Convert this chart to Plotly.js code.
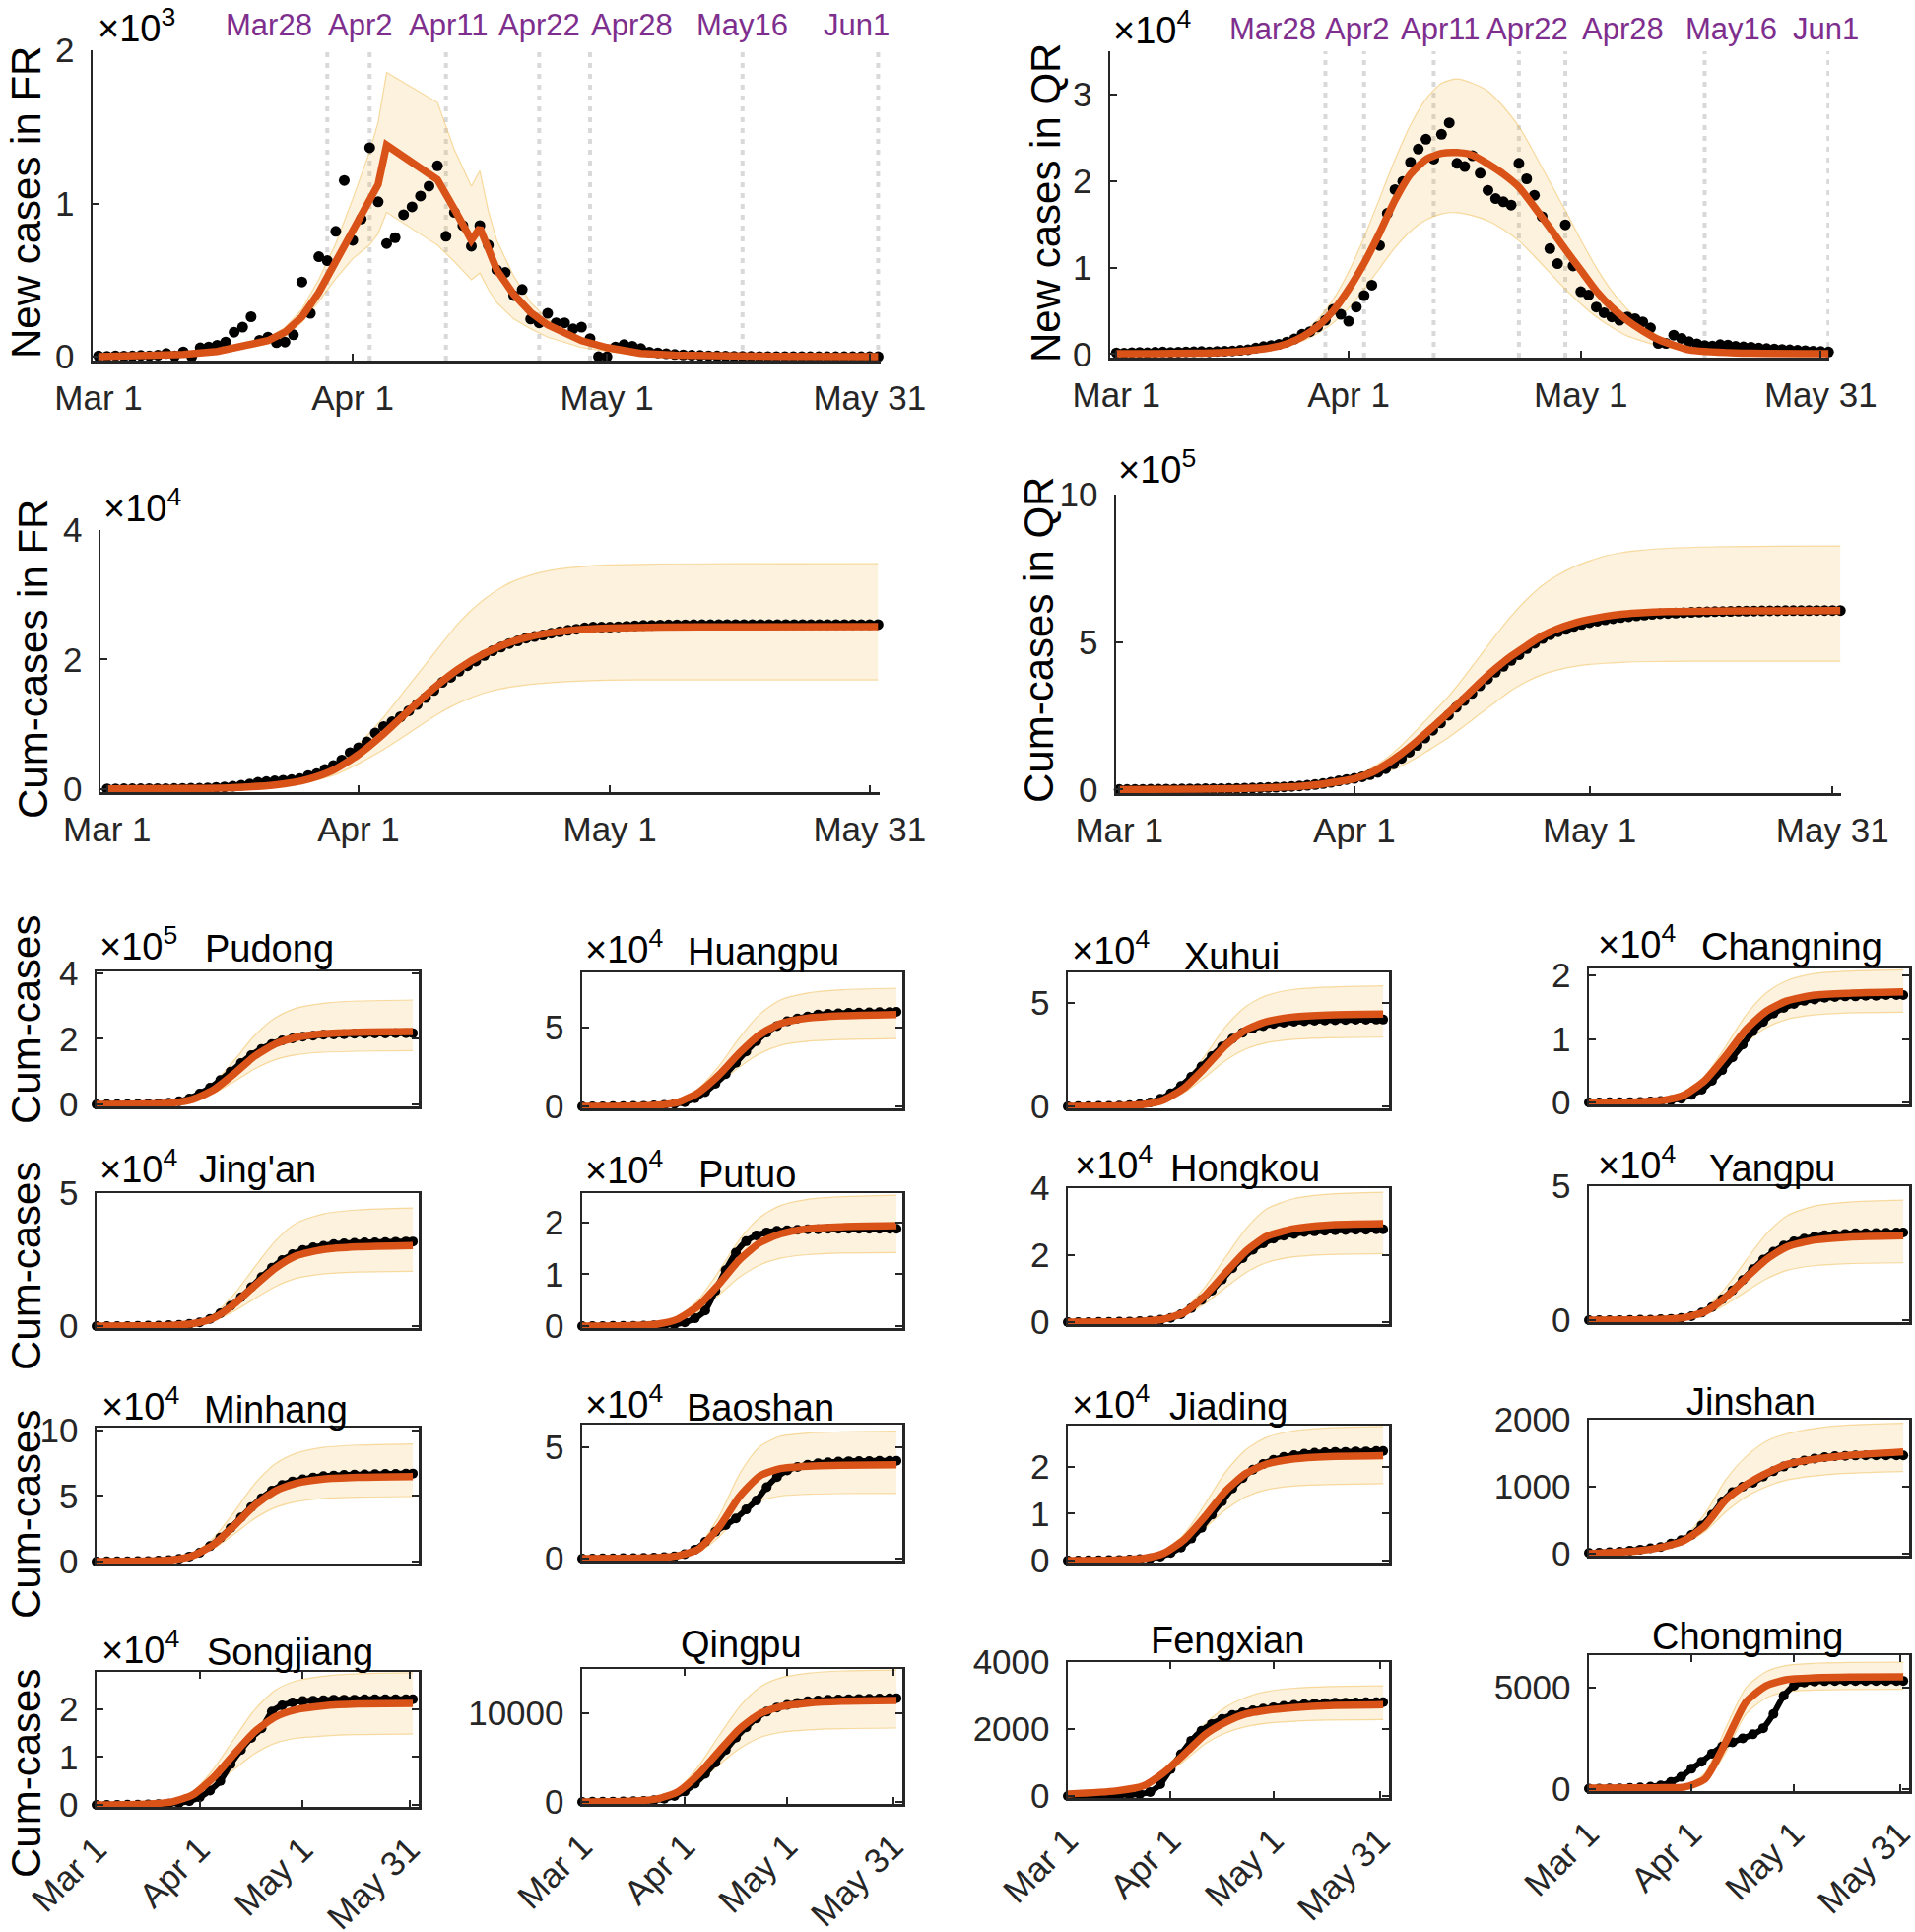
<!DOCTYPE html>
<html>
<head>
<meta charset="utf-8">
<script src="https://cdn.plot.ly/plotly-3.0.1.min.js"></script>
<style>
  html, body { margin: 0; padding: 0; background: #fff; }
  #chart { width: 1944px; height: 1961px; }
</style>
</head>
<body>
<div id="chart"></div>
<script>
// ---------------- data ----------------
// day index: 0 = Mar 1 ... 92 = Jun 1
const days = Array.from({length: 93}, (v, k) => k);
const dateTickDays = [0, 30, 60, 91];
const dateTickText = ['Mar 1', 'Apr 1', 'May 1', 'May 31'];

// policy dates marked with dashed lines
const eventDays = [27, 32, 41, 52, 58, 76, 92];
const eventLabels = ['Mar28', 'Apr2', 'Apr11', 'Apr22', 'Apr28', 'May16', 'Jun1'];
const eventLabelPosFR = [20.1, 30.9, 41.3, 52, 62.9, 76, 89.5];
const eventLabelPosQR = [20.2, 31.1, 41.8, 53.1, 65.5, 79.5, 91.7];

// new cases in FR (daily)
const frNewData = [5,3,6,4,5,8,6,10,21,5,32,0,58,64,75,96,160,193,261,107,128,92,96,143,
  488,283,653,627,818,1150,760,899,1364,1011,739,777,927,978,1049,1113,1246,
  786,942,856,721,856,728,567,550,400,439,246,221,283,221,221,182,193,118,0,0,
  64,79,69,53,30,25,20,15,12,10,8,6,5,4,3,2,2,1,1,1,1,1,1,0,0,0,0,0,0,0,0,0];
const fitDaysFR = [0,5,10,14,18,20,22,24,26,28,30,32,33,34,40,42,44,45,46,47,49,51,53,55,57,60,62,64,68,72,80,92];
const frNewFit = [0,5,15,35,75,105,160,260,420,625,830,1017,1124,1381,1156,963,760,841,696,567,407,289,208,150,105,60,38,22,10,5,2,0];
const frNewUp = [0,5,16,40,85,125,190,310,505,740,1030,1340,1531,1856,1659,1350,1113,1214,953,760,525,353,246,171,125,75,49,30,14,7,3,0];
const frNewLo = [0,4,13,30,60,85,130,225,360,510,640,730,803,942,728,620,503,546,439,353,246,182,128,92,60,35,21,14,6,3,1,0];

// new cases in QR (daily)
const qrNewData = [150,120,180,200,160,220,250,200,230,260,280,300,260,320,350,380,450,
  520,700,870,1000,1150,1400,1750,2300,2600,3150,3920,
  5170,4600,3800,5440,6770,7980,
  12550,16270,19010,19960,22170,23690,24830,22550,25400,26730,
  22050,21670,22930,20910,18930,17980,17600,17220,
  22050,20260,18360,15890,12200,10460,14940,10190,
  7220,6840,5440,4790,4300,3920,4300,4100,3730,3040,
  1250,1250,2200,1825,1440,1200,1000,950,1100,1050,900,850,800,700,650,600,550,500,450,400,350,300,250];
const fitDaysQR = [0,5,10,14,17,20,22,24,26,28,30,32,34,36,38,40,42,44,46,48,50,52,54,56,58,60,62,64,66,68,70,74,80,92];
const qrNewFit = [50,60,100,200,400,750,1200,2000,3200,5000,7500,10500,14000,17800,20800,22500,23200,23300,23000,22000,
  20800,19300,17000,14600,12100,9700,7300,5400,3900,2700,1700,500,150,60];
const qrNewUp = [50,60,100,210,450,900,1500,2500,4000,6300,9500,13500,18000,22500,26500,29500,31300,31800,31300,30400,
  28600,26300,23200,19900,16600,13200,10000,7300,5200,3500,2100,700,200,70];
const qrNewLo = [50,60,100,190,350,600,950,1500,2400,3600,5300,7500,9900,12300,14200,15500,16200,16350,16000,15400,
  14400,13100,11300,9400,7500,5800,4300,3100,2100,1500,1000,380,130,50];

// cumulative cases in FR
const frCumData = [5,8,14,18,23,31,37,47,68,73,105,105,163,227,302,398,558,751,1012,1119,
  1247,1339,1435,1578,2066,2349,3002,3629,4447,5597,6357,7256,8620,9631,10370,11147,12074,13052,14101,15214,
  16460,17246,18188,19044,19765,20621,21349,21916,22466,22866,23305,23551,23772,24055,24276,24497,24679,24872,24990,24990,
  24990,25054,25133,25202,25255,25285,25310,25330,25345,25357,25367,25375,25381,25386,25390,25393,25395,25397,25398,25399,
  25400,25400,25400,25400,25400,25400,25400,25400,25400,25400,25400,25400,25400];
const cumDaysFR = [0,10,15,20,24,27,30,33,36,39,42,45,48,51,54,57,60,66,75,92];
const frCumFit = [0,60,200,600,1500,2900,5300,8500,12100,15600,18600,20900,22600,23700,24300,24650,24850,25000,25050,25080];
const frCumUp = [0,70,250,750,1900,3700,6900,11100,16000,20900,25700,29300,31800,33200,34000,34400,34600,34750,34800,34800];
const frCumLo = [0,50,150,450,1100,2100,3900,6100,8600,11200,13300,14800,15700,16200,16500,16700,16800,16850,16850,16850];

// cumulative cases in QR
const qrCumData = [200,400,600,800,1000,1200,1500,1700,2000,2200,
  2500,2800,3100,3400,3800,4200,4700,5300,6000,6900,
  8000,9200,10600,12400,14600,17200,20500,24500,29500,34000,
  38000,43500,50500,58500,71000,87000,106000,127000,150000,175000,
  201000,226000,252000,279000,302000,326000,352000,375000,398000,418000,
  438000,457000,478000,496000,512000,525000,535000,543000,553000,560000,
  566000,571000,575500,579500,583000,586000,589000,591500,594000,596000,
  597000,598000,599500,600500,601500,602300,603000,603600,604200,604700,
  605100,605400,605700,606000,606200,606400,606500,606600,606700,606800,
  606900,607000,607000];
const cumDaysQR = [0,10,15,20,24,26,28,30,32,34,36,38,40,42,44,46,48,50,52,54,56,58,60,62,64,66,70,76,84,92];
const qrCumFit = [0,1500,3000,7000,13000,19000,27000,37000,55000,85000,122000,165000,212000,260000,310000,362000,410000,452000,488000,522000,
  546000,564000,577000,587000,594000,598000,603000,605000,606000,606500];
const qrCumUp = [0,1700,3500,8500,16000,23000,33000,47000,70000,104000,150000,204000,260000,316000,382000,452000,522000,588000,645000,693000,
  728000,755000,775000,792000,803000,810000,818000,823000,825000,826000];
const qrCumLo = [0,1300,2500,5500,10000,14000,20000,28000,40000,58000,80000,109000,142000,176000,215000,256000,296000,335000,366000,390000,
  406000,417000,424000,428000,431000,433000,434500,435000,435000,435000];

// districts: observed every 3 days, model/band on a coarser day grid (axis units shown in each panel)
const obsDays = [0,3,6,9,12,15,18,21,24,27,30,33,36,39,42,45,48,51,54,57,60,63,66,69,72,75,78,81,84,87,90,92];
const modelDays = [0,14,22,28,34,40,46,52,58,66,76,92];

const pudongData = [0,.004,.007,.009,.011,.017,.03,.054,.098,.18,.33,.51,.74,1.0,1.26,1.5,1.69,1.84,1.95,2.01,2.06,2.09,2.12,2.13,2.14,2.15,2.15,2.16,2.16,2.17,2.17,2.17];
const pudongFit = [0,.011,.044,.155,.44,.93,1.47,1.84,2.04,2.15,2.20,2.22];
const pudongUp = [0,.016,.064,.22,.64,1.34,2.10,2.64,2.93,3.08,3.15,3.18];
const pudongLo = [0,.008,.033,.115,.33,.69,1.08,1.36,1.51,1.59,1.62,1.64];

const huangpuData = [0,0,0,.006,.012,.024,.036,.06,.09,.15,.27,.51,.9,1.44,2.04,2.76,3.48,4.14,4.68,5.1,5.4,5.58,5.7,5.82,5.87,5.91,5.94,5.95,5.97,5.98,5.99,6.0];
const huangpuFit = [0,.017,.076,.26,.87,1.98,3.38,4.55,5.25,5.6,5.75,5.83];
const huangpuUp = [0,.023,.1,.34,1.13,2.55,4.35,5.85,6.75,7.2,7.4,7.5];
const huangpuLo = [0,.013,.056,.19,.65,1.46,2.49,3.35,3.87,4.13,4.24,4.3];

const xuhuiData = [0,.008,.013,.017,.021,.033,.059,.1,.19,.36,.63,.98,1.42,1.92,2.42,2.88,3.26,3.55,3.76,3.87,3.97,4.03,4.08,4.1,4.13,4.14,4.15,4.16,4.17,4.17,4.18,4.18];
const xuhuiFit = [0,.022,.089,.31,.89,1.86,2.93,3.69,4.08,4.31,4.4,4.44];
const xuhuiUp = [0,.029,.116,.41,1.16,2.44,3.83,4.81,5.34,5.63,5.74,5.8];
const xuhuiLo = [0,.017,.067,.23,.67,1.4,2.2,2.76,3.06,3.23,3.3,3.33];

const changningData = [0,0,.002,.003,.005,.008,.014,.022,.034,.059,.118,.2,.34,.51,.71,.91,1.12,1.27,1.4,1.49,1.55,1.6,1.62,1.65,1.66,1.67,1.67,1.68,1.68,1.69,1.69,1.69];
const changningFit = [0,.009,.035,.12,.35,.73,1.15,1.44,1.6,1.69,1.72,1.74];
const changningUp = [0,.01,.042,.146,.42,.88,1.38,1.73,1.92,2.03,2.07,2.09];
const changningLo = [0,.007,.028,.1,.28,.6,.94,1.18,1.31,1.38,1.41,1.42];

const jinganData = [0,0,0,.003,.006,.013,.019,.032,.048,.08,.14,.27,.48,.76,1.08,1.46,1.84,2.19,2.48,2.7,2.86,2.96,3.02,3.08,3.11,3.13,3.15,3.15,3.16,3.17,3.18,3.18];
const jinganFit = [0,.006,.03,.09,.3,.82,1.52,2.18,2.64,2.88,2.98,3.03];
const jinganUp = [0,.009,.044,.13,.44,1.2,2.22,3.2,3.86,4.22,4.37,4.44];
const jinganLo = [0,.004,.021,.062,.21,.56,1.03,1.48,1.79,1.96,2.03,2.06];

const putuoData = [0,0,0,.002,.003,.005,.008,.012,.02,.035,.07,.15,.3,.68,1.08,1.42,1.64,1.75,1.81,1.84,1.85,1.86,1.87,1.87,1.88,1.88,1.88,1.88,1.88,1.88,1.88,1.88];
const putuoFit = [0,.01,.039,.136,.39,.81,1.28,1.61,1.78,1.88,1.92,1.94];
const putuoUp = [0,.013,.05,.18,.51,1.06,1.67,2.1,2.33,2.45,2.5,2.53];
const putuoLo = [0,.007,.028,.1,.28,.6,.94,1.18,1.31,1.38,1.41,1.42];

const hongkouData = [0,0,0,.003,.006,.011,.017,.028,.042,.069,.125,.235,.42,.66,.94,1.27,1.61,1.91,2.16,2.35,2.49,2.58,2.63,2.69,2.71,2.73,2.74,2.75,2.76,2.76,2.77,2.77];
const hongkouFit = [0,.006,.029,.088,.29,.79,1.47,2.12,2.56,2.79,2.9,2.94];
const hongkouUp = [0,.008,.039,.116,.39,1.05,1.94,2.79,3.38,3.69,3.82,3.88];
const hongkouLo = [0,.004,.021,.062,.21,.55,1.03,1.48,1.78,1.95,2.02,2.05];

const yangpuData = [0,0,0,.003,.007,.013,.02,.033,.049,.082,.147,.28,.49,.78,1.11,1.5,1.9,2.26,2.55,2.78,2.94,3.04,3.11,3.17,3.2,3.22,3.24,3.24,3.25,3.26,3.27,3.27];
const yangpuFit = [0,.006,.032,.095,.32,.85,1.58,2.27,2.74,2.99,3.1,3.15];
const yangpuUp = [0,.009,.045,.13,.45,1.21,2.24,3.23,3.9,4.26,4.41,4.48];
const yangpuLo = [0,.004,.021,.064,.21,.58,1.07,1.54,1.86,2.03,2.11,2.14];

const minhangData = [0,.007,.013,.02,.027,.04,.067,.114,.2,.38,.67,1.17,1.81,2.55,3.35,4.15,4.82,5.39,5.83,6.1,6.26,6.4,6.5,6.55,6.6,6.62,6.63,6.65,6.67,6.68,6.69,6.7];
const minhangFit = [0,.032,.13,.45,1.29,2.72,4.27,5.37,5.95,6.28,6.41,6.47];
const minhangUp = [0,.045,.18,.63,1.79,3.76,5.91,7.44,8.24,8.69,8.87,8.96];
const minhangLo = [0,.025,.1,.35,.99,2.08,3.27,4.11,4.55,4.8,4.9,4.95];

const baoshanData = [0,0,.005,.01,.015,.02,.03,.04,.06,.1,.2,.4,.75,1.2,1.5,1.8,2.2,2.6,3.2,3.65,3.95,4.1,4.2,4.27,4.31,4.34,4.36,4.37,4.37,4.38,4.38,4.38];
const baoshanFit = [0,.013,.042,.126,.42,1.39,2.77,3.7,4.03,4.14,4.18,4.2];
const baoshanUp = [0,.017,.057,.17,.57,1.88,3.77,5.02,5.48,5.62,5.68,5.71];
const baoshanLo = [0,.009,.029,.088,.29,.96,1.93,2.57,2.8,2.88,2.91,2.92];

const jiadingData = [0,0,.002,.005,.007,.012,.019,.03,.047,.082,.164,.28,.47,.7,.98,1.26,1.54,1.76,1.94,2.06,2.15,2.21,2.25,2.28,2.3,2.31,2.32,2.32,2.33,2.33,2.34,2.34];
const jiadingFit = [0,.011,.045,.157,.45,.94,1.48,1.86,2.06,2.17,2.22,2.24];
const jiadingUp = [0,.014,.057,.2,.57,1.2,1.89,2.37,2.63,2.77,2.83,2.86];
const jiadingLo = [0,.008,.033,.115,.33,.69,1.08,1.36,1.51,1.59,1.62,1.64];

const jinshanData = [10,15,20,30,45,60,80,100,150,200,280,420,580,780,920,1000,1060,1150,1230,1300,1350,1390,1420,1440,1455,1460,1465,1467,1467,1467,1467,1467];
const jinshanFit = [0,40,105,200,420,800,1030,1200,1335,1410,1467,1520];
const jinshanUp = [0,45,120,260,600,1100,1450,1680,1790,1870,1920,1947];
const jinshanLo = [0,35,90,160,330,620,850,1000,1100,1160,1200,1227];

const songjiangData = [0,0,.002,.004,.006,.01,.015,.025,.04,.08,.16,.3,.5,.85,1.15,1.4,1.6,1.95,2.08,2.14,2.17,2.18,2.19,2.2,2.2,2.2,2.21,2.21,2.21,2.21,2.21,2.21];
const songjiangFit = [0,.015,.064,.21,.57,1.06,1.53,1.84,1.99,2.07,2.11,2.12];
const songjiangUp = [0,.019,.083,.28,.75,1.38,1.99,2.4,2.59,2.69,2.74,2.76];
const songjiangLo = [0,.01,.044,.148,.4,.74,1.07,1.29,1.39,1.44,1.47,1.48];

const qingpuData = [0,12,23,35,47,70,117,200,350,670,1170,2050,3160,4450,5850,7250,8420,9420,10180,10650,10940,11170,11350,11440,11520,11560,11580,11620,11640,11660,11690,11700];
const qingpuFit = [0,80,340,1140,3090,5700,8230,9940,10740,11140,11350,11430];
const qingpuUp = [0,100,450,1490,4020,7440,10710,12950,13990,14510,14780,14880];
const qingpuLo = [0,60,250,830,2250,4170,6000,7250,7830,8120,8270,8330];

const fengxianData = [0,5,10,15,20,30,40,60,120,350,800,1250,1650,1950,2150,2300,2420,2500,2560,2610,2650,2690,2720,2740,2760,2775,2785,2790,2795,2800,2800,2800];
const fengxianFit = [60,150,300,700,1250,1830,2200,2450,2560,2640,2700,2727];
const fengxianUp = [70,170,350,800,1450,2150,2650,2950,3120,3220,3270,3290];
const fengxianLo = [50,130,260,600,1050,1550,1880,2070,2170,2230,2265,2280];

const chongmingData = [20,25,30,40,60,80,120,180,350,600,1000,1350,1750,2100,2300,2500,2700,3000,3700,4600,5100,5250,5300,5320,5330,5330,5330,5330,5330,5330,5330,5330];
const chongmingFit = [50,60,70,100,500,2300,4300,5100,5400,5480,5520,5530];
const chongmingUp = [60,70,80,130,800,3000,5000,5800,6100,6200,6240,6250];
const chongmingLo = [40,50,60,80,350,1800,3700,4500,4800,4880,4910,4920];

const districtNames = ['Pudong', 'Huangpu', 'Xuhui', 'Changning', "Jing'an", 'Putuo', 'Hongkou', 'Yangpu',
  'Minhang', 'Baoshan', 'Jiading', 'Jinshan', 'Songjiang', 'Qingpu', 'Fengxian', 'Chongming'];
const districtExp = [5, 4, 4, 4, 4, 4, 4, 4, 4, 4, 4, 0, 4, 0, 0, 0];
const districtTop = [4.05, 8.5, 6.45, 2.11, 5, 2.57, 4, 5, 10.2, 6.0, 2.88, 2000, 2.78, 15000, 4000, 6600];
const districtTicks = [[0,2,4], [0,5], [0,5], [0,1,2], [0,5], [0,1,2], [0,2,4], [0,5],
  [0,5,10], [0,5], [0,1,2], [0,1000,2000], [0,1,2], [0,10000], [0,2000,4000], [0,5000]];

// ---------------- style / geometry ----------------
const W = 1944, H = 1961;
const FONT = 'Liberation Sans, Arial, Helvetica, sans-serif';
const ORANGE = '#D95319';
const PURPLE = '#7E2F8E';
const AXIS = '#262626';
const BAND_FILL = 'rgba(240,180,60,0.17)';
const BAND_EDGE = 'rgba(240,180,60,0.45)';
const TICK_SIZE = 35;

// pixel boxes [left, right, top, bottom]
const topBoxes = [[94, 894, 51, 366], [1127, 1857, 52, 363], [102, 893, 538, 804], [1133, 1869, 502, 805]];
const colX = [[98, 425], [591, 916], [1084, 1410], [1613, 1938]];
const rowY = [[986, 1123], [987, 1125], [987, 1125], [983, 1121],
  [1211, 1348], [1211, 1348], [1206, 1344], [1204, 1342],
  [1449, 1587], [1446, 1584], [1447, 1586], [1441, 1579],
  [1697, 1834], [1694, 1831], [1687, 1825], [1680, 1818]];
const expPos = [[99, 958], [592, 961], [1086, 962], [1620, 956],
  [99, 1184], [592, 1185], [1089, 1180], [1620, 1180],
  [101, 1425], [592, 1423], [1086, 1423], null,
  [101, 1672], null, null, null];
const titlePos = [[273, 963], [775, 966], [1250, 971], [1819, 961],
  [261, 1187], [758, 1192], [1264, 1186], [1799, 1186],
  [280, 1431], [772, 1429], [1247, 1428], [1777, 1423],
  [294, 1677], [752, 1669], [1246, 1665], [1774, 1661]];

const id = n => (n === 1 ? '' : String(n));
const px = v => v / W;
const py = v => 1 - v / H;

const traces = [];
const layout = {
  width: W, height: H,
  margin: {l: 0, r: 0, t: 0, b: 0},
  showlegend: false,
  paper_bgcolor: 'white', plot_bgcolor: 'rgba(0,0,0,0)',
  font: {family: FONT, color: AXIS},
  annotations: [], shapes: []
};

function addBand(n, x, lo, up, shape) {
  const ax = {xaxis: 'x' + id(n), yaxis: 'y' + id(n)};
  traces.push(Object.assign({x: x, y: lo, mode: 'lines', hoverinfo: 'skip',
    line: {color: BAND_EDGE, width: 1.2, shape: shape, smoothing: 0.7}}, ax));
  traces.push(Object.assign({x: x, y: up, mode: 'lines', hoverinfo: 'skip', fill: 'tonexty', fillcolor: BAND_FILL,
    line: {color: BAND_EDGE, width: 1.2, shape: shape, smoothing: 0.7}}, ax));
}

function addDots(n, x, y, size, joined) {
  const t = {x: x, y: y, xaxis: 'x' + id(n), yaxis: 'y' + id(n), cliponaxis: false,
    mode: joined ? 'lines+markers' : 'markers',
    marker: {color: 'black', size: size}};
  if (joined) t.line = {color: 'black', width: 6, shape: 'spline', smoothing: 0.6};
  traces.push(t);
}

function addFit(n, x, y, shape) {
  traces.push({x: x, y: y, xaxis: 'x' + id(n), yaxis: 'y' + id(n), mode: 'lines',
    line: {color: ORANGE, width: 7.5, shape: shape, smoothing: 0.6}});
}

function baseAxis() {
  return {showline: true, linecolor: AXIS, linewidth: 2.5, showgrid: false, zeroline: false,
    ticks: 'inside', ticklen: 7, tickwidth: 2, tickcolor: AXIS, ticklabeloverflow: 'allow',
    tickfont: {family: FONT, size: TICK_SIZE, color: AXIS}};
}

function topAxes(n, box, xr, yr, yVals, yText) {
  const [l, r, t, b] = box;
  layout['xaxis' + id(n)] = Object.assign(baseAxis(), {
    domain: [px(l), px(r)], range: xr, anchor: 'y' + id(n), mirror: false,
    tickvals: dateTickDays, ticktext: dateTickText, ticklabelstandoff: 5});
  layout['yaxis' + id(n)] = Object.assign(baseAxis(), {
    domain: [py(b), py(t)], range: yr, anchor: 'x' + id(n), mirror: false,
    tickvals: yVals, ticktext: yText, ticklabelstandoff: 9});
}

function note(text, x, y, size, opts) {
  layout.annotations.push(Object.assign({text: text, xref: 'paper', yref: 'paper', x: px(x), y: py(y),
    showarrow: false, xanchor: 'center', yanchor: 'middle',
    font: {family: FONT, size: size, color: 'black'}}, opts || {}));
}

// ---------------- top four panels ----------------
topAxes(1, topBoxes[0], [-0.7, 92.3], [-25, 2000], [0, 1000, 2000], ['0', '1', '2']);
topAxes(2, topBoxes[1], [-0.8, 92.1], [-400, 35000], [0, 10000, 20000, 30000], ['0', '1', '2', '3']);
topAxes(3, topBoxes[2], [-0.8, 92.2], [-500, 40000], [0, 20000, 40000], ['0', '2', '4']);
topAxes(4, topBoxes[3], [-0.4, 92.1], [-12000, 1000000], [0, 500000, 1000000], ['0', '5', '10']);

// dashed policy lines + labels
[1, 2].forEach(n => {
  eventDays.forEach(d => {
    layout.shapes.push({type: 'line', layer: 'below', xref: 'x' + id(n), yref: 'y' + id(n) + ' domain',
      x0: d, x1: d, y0: 0, y1: 1, line: {color: '#D9D9D9', width: 4, dash: '5px,6px'}});
  });
});
eventLabels.forEach((lab, i) => {
  layout.annotations.push({text: lab, xref: 'x', yref: 'paper', x: eventLabelPosFR[i], y: py(25),
    showarrow: false, xanchor: 'center', yanchor: 'middle', font: {family: FONT, size: 31, color: PURPLE}});
  layout.annotations.push({text: lab, xref: 'x2', yref: 'paper', x: eventLabelPosQR[i], y: py(29),
    showarrow: false, xanchor: 'center', yanchor: 'middle', font: {family: FONT, size: 31, color: PURPLE}});
});

addBand(1, fitDaysFR, frNewLo, frNewUp, 'linear');
addDots(1, days, frNewData, 11, false);
addFit(1, fitDaysFR, frNewFit, 'linear');

addBand(2, fitDaysQR, qrNewLo, qrNewUp, 'spline');
addDots(2, days, qrNewData, 11, false);
addFit(2, fitDaysQR, qrNewFit, 'spline');

addBand(3, cumDaysFR, frCumLo, frCumUp, 'spline');
addDots(3, days, frCumData, 11, false);
addFit(3, cumDaysFR, frCumFit, 'spline');

addBand(4, cumDaysQR, qrCumLo, qrCumUp, 'spline');
addDots(4, days, qrCumData, 11, false);
addFit(4, cumDaysQR, qrCumFit, 'spline');

note('New cases in FR', 26, 206, 42, {textangle: -90});
note('New cases in QR', 1061, 206, 42, {textangle: -90});
note('Cum-cases in FR', 33, 669, 42, {textangle: -90});
note('Cum-cases in QR', 1054, 650, 42, {textangle: -90});
note('×10<sup>3</sup>', 97, 26, 38, {xanchor: 'left'});
note('×10<sup>4</sup>', 1128, 28, 38, {xanchor: 'left'});
note('×10<sup>4</sup>', 103, 513, 38, {xanchor: 'left'});
note('×10<sup>5</sup>', 1133, 474, 38, {xanchor: 'left'});

// ---------------- district panels ----------------
const dSeries = [
  [pudongData, pudongFit, pudongUp, pudongLo], [huangpuData, huangpuFit, huangpuUp, huangpuLo],
  [xuhuiData, xuhuiFit, xuhuiUp, xuhuiLo], [changningData, changningFit, changningUp, changningLo],
  [jinganData, jinganFit, jinganUp, jinganLo], [putuoData, putuoFit, putuoUp, putuoLo],
  [hongkouData, hongkouFit, hongkouUp, hongkouLo], [yangpuData, yangpuFit, yangpuUp, yangpuLo],
  [minhangData, minhangFit, minhangUp, minhangLo], [baoshanData, baoshanFit, baoshanUp, baoshanLo],
  [jiadingData, jiadingFit, jiadingUp, jiadingLo], [jinshanData, jinshanFit, jinshanUp, jinshanLo],
  [songjiangData, songjiangFit, songjiangUp, songjiangLo], [qingpuData, qingpuFit, qingpuUp, qingpuLo],
  [fengxianData, fengxianFit, fengxianUp, fengxianLo], [chongmingData, chongmingFit, chongmingUp, chongmingLo]
];

districtNames.forEach((name, i) => {
  const n = i + 5;
  const [l, r] = colX[i % 4];
  const [t, b] = rowY[i];
  const top = districtTop[i];
  const bottomRow = i >= 12;
  layout['xaxis' + id(n)] = Object.assign(baseAxis(), {
    domain: [px(l), px(r)], range: [0, 93.7], anchor: 'y' + id(n), mirror: 'ticks',
    ticks: bottomRow ? 'inside' : '', showticklabels: bottomRow,
    tickvals: dateTickDays, ticktext: dateTickText, tickangle: -45, ticklabelstandoff: 6});
  layout['yaxis' + id(n)] = Object.assign(baseAxis(), {
    domain: [py(b), py(t)], range: [-0.015 * top, top], anchor: 'x' + id(n), mirror: 'ticks',
    tickvals: districtTicks[i], ticktext: districtTicks[i].map(String), ticklabelstandoff: 9});

  const [data, fit, up, lo] = dSeries[i];
  addBand(n, modelDays, lo, up, 'spline');
  addDots(n, obsDays, data, 10, true);
  addFit(n, modelDays, fit, 'spline');

  if (districtExp[i]) note('×10<sup>' + districtExp[i] + '</sup>', expPos[i][0], expPos[i][1], 38, {xanchor: 'left'});
  note(name, titlePos[i][0], titlePos[i][1], 38);
});

[1035, 1285, 1537, 1800].forEach(y => note('Cum-cases', 26, y, 42, {textangle: -90}));

Plotly.newPlot('chart', traces, layout, {staticPlot: true});
</script>
</body>
</html>
